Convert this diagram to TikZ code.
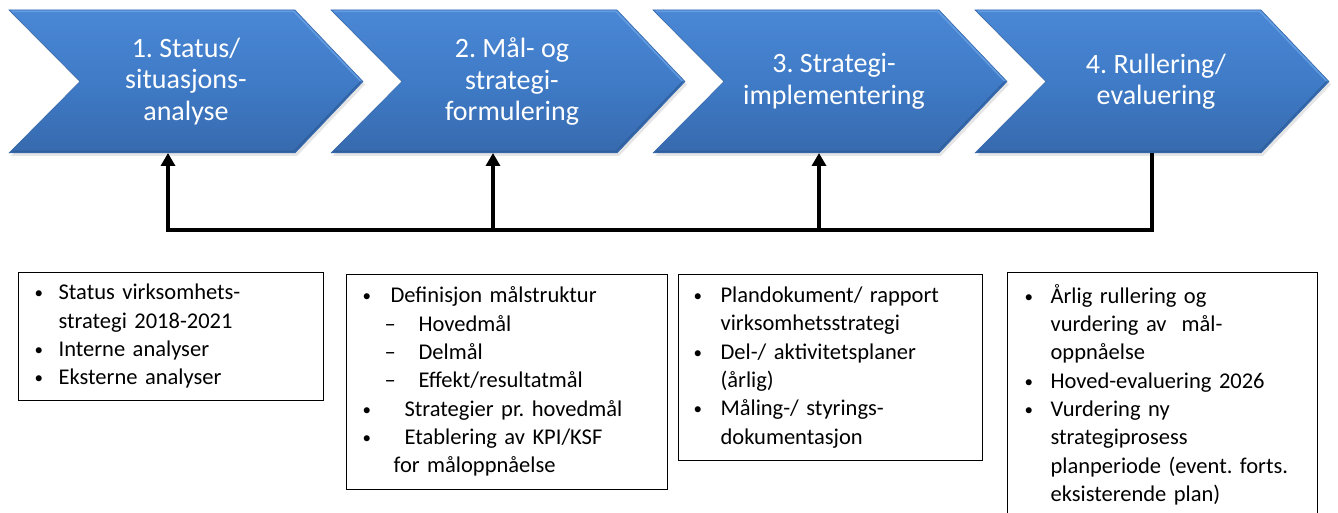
\documentclass[tikz,border=0pt]{standalone}
\usepackage{fontspec}
\setmainfont{Carlito}
\frenchspacing
\usetikzlibrary{arrows.meta,calc}
\definecolor{chevtop}{HTML}{4A87D4}
\definecolor{chevmid}{HTML}{3F7BC7}
\definecolor{chevbot}{HTML}{376AAE}
\definecolor{chevedge}{HTML}{3466A8}
\definecolor{chevlight}{HTML}{6AA2E4}
\definecolor{chevdark}{HTML}{2C5A96}
\newcommand{\smallbullet}{\raisebox{1pt}{\fontsize{17}{17}\selectfont\textbullet}}
\newcommand{\bl}[3]{\makebox[#2][l]{\hspace*{#1}\smallbullet}#3}
\newcommand{\dl}[3]{\makebox[#2][l]{\hspace*{#1}–}#3}
\newcommand{\il}[2]{\hspace*{#1}#2}
\begin{document}
\begin{tikzpicture}[x=1pt,y=-1pt,
  chevnode/.style={minimum width=354pt,minimum height=143pt,inner sep=0pt,outer sep=0pt},
  chevfill/.style={top color=chevtop,bottom color=chevbot,middle color=chevmid,draw=chevedge,line width=0.5pt},
  chevshadow/.style={fill=black,opacity=0.10},
  chevtext/.style={text=white,align=center,font=\fontsize{28}{31.5}\selectfont},
  infobox/.style={draw=black,line width=1.2pt,anchor=north west,inner xsep=0pt,inner ysep=0pt,
    align=left,font=\fontsize{22.5}{28.3}\selectfont\frenchspacing,text=black},
  conn/.style={line width=3.6pt,draw=black},
  tip/.style={-{Triangle[length=13pt,width=14pt]}}
]
\useasboundingbox (0,0) rectangle (1338,513);
\fill[white] (0,0) rectangle (1338,513);

% chevrons
\foreach \i/\x in {1/9,2/331,3/653,4/975}{
  \node[chevnode] (ch\i) at (\x+177,81.5) {};
  \fill[chevshadow] ([shift={(2,3)}]ch\i.north west) -- ([shift={(-66,3)}]ch\i.north east) -- ([shift={(2,3)}]ch\i.east) -- ([shift={(-66,3)}]ch\i.south east) -- ([shift={(2,3)}]ch\i.south west) -- ([shift={(73,3)}]ch\i.west) -- cycle;
  \path[chevfill] (ch\i.north west) -- ([xshift=-68]ch\i.north east) -- (ch\i.east) -- ([xshift=-68]ch\i.south east) -- (ch\i.south west) -- ([xshift=71]ch\i.west) -- cycle;
  \draw[chevlight,opacity=0.8,line width=1.5pt,line join=round] ([shift={(3,1.5)}]ch\i.north west) -- ([shift={(-69,1.5)}]ch\i.north east) -- ([xshift=-2]ch\i.east);
  \draw[chevdark,opacity=0.7,line width=1.5pt,line join=round] ([xshift=-2]ch\i.east) -- ([shift={(-69,-1.5)}]ch\i.south east) -- ([shift={(3,-1.5)}]ch\i.south west);
}
\node[chevtext] (t1) at (ch1) {1. Status/\\situasjons-\\analyse};
\node[chevtext] (t2) at ([xshift=4]ch2) {2. Mål- og\\strategi-\\formulering};
\node[chevtext] (t3) at ([xshift=4]ch3) {3. Strategi-\\implementering};
\node[chevtext] (t4) at ([xshift=4]ch4) {4. Rullering/\\evaluering};

% feedback connectors
\coordinate (j1) at (168,230);
\coordinate (j2) at (493,230);
\coordinate (j3) at (819,230);
\coordinate (j4) at (1152,230);
\draw[conn,tip] (ch4.south -| j4) -- (j4) -- (j1) -- (j1 |- ch1.south);
\draw[conn,tip] (j2) -- (j2 |- ch2.south);
\draw[conn,tip] (j3) -- (j3 |- ch3.south);

% info boxes
\node[infobox,text width=305pt,minimum height=128pt] (b1) at (18,272) {%
\begin{tabular}{@{}l@{}}
\bl{16pt}{40pt}{Status virksomhets-}\\
\il{40pt}{strategi 2018-2021}\\
\bl{16pt}{40pt}{Interne analyser}\\
\bl{16pt}{40pt}{Eksterne analyser}
\end{tabular}};

\node[infobox,text width=321pt,minimum height=215pt] (b2) at (346,274) {%
\begin{tabular}{@{}l@{}}
\bl{16pt}{44pt}{Definisjon målstruktur}\\
\dl{38pt}{72pt}{Hovedmål}\\
\dl{38pt}{72pt}{Delmål}\\
\dl{38pt}{72pt}{Effekt/resultatmål}\\
\bl{16pt}{58pt}{Strategier pr. hovedmål}\\
\bl{16pt}{58pt}{Etablering av KPI/KSF}\\
\il{47pt}{for måloppnåelse}
\end{tabular}};

\node[infobox,text width=304pt,minimum height=186pt] (b3) at (678,274) {%
\begin{tabular}{@{}l@{}}
\bl{15pt}{42pt}{Plandokument/ rapport}\\
\il{42pt}{virksomhetsstrategi}\\
\bl{15pt}{42pt}{Del-/ aktivitetsplaner}\\
\il{42pt}{(årlig)}\\
\bl{15pt}{42pt}{Måling-/ styrings-}\\
\il{42pt}{dokumentasjon}
\end{tabular}};

\node[infobox,text width=310pt,minimum height=248pt] (b4) at (1007,272) {%
\begin{tabular}{@{}l@{}}
\bl{17pt}{43pt}{Årlig rullering og}\\
\il{43pt}{vurdering av~ mål-}\\
\il{43pt}{oppnåelse}\\
\bl{17pt}{43pt}{Hoved-evaluering 2026}\\
\bl{17pt}{43pt}{Vurdering ny}\\
\il{43pt}{strategiprosess}\\
\il{43pt}{planperiode (event. forts.}\\
\il{43pt}{eksisterende plan)}
\end{tabular}};
\end{tikzpicture}
\end{document}
